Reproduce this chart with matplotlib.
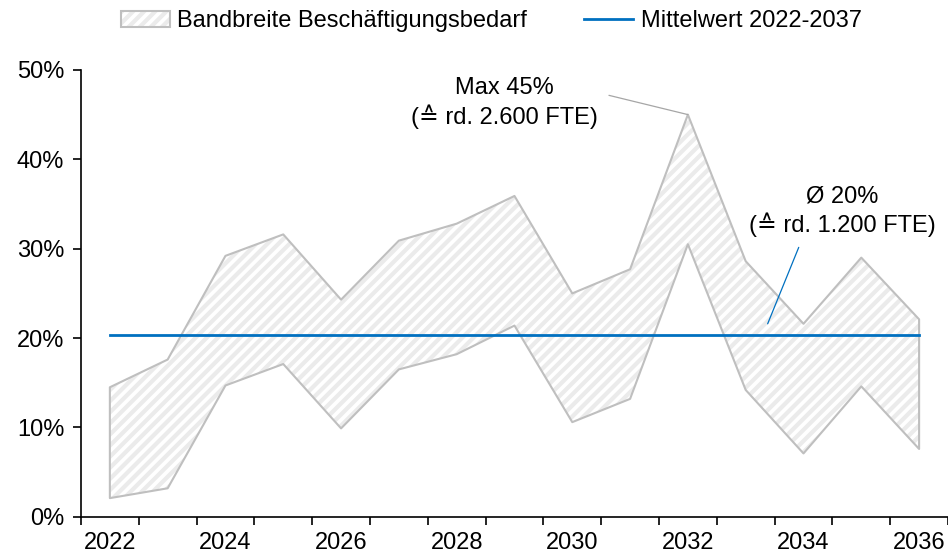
import numpy as np
import matplotlib.pyplot as plt
from matplotlib.patches import Patch
from matplotlib.lines import Line2D
from matplotlib.legend_handler import HandlerTuple

plt.rcParams['font.family'] = ['Liberation Sans', 'DejaVu Sans']
plt.rcParams['font.size'] = 17
plt.rcParams['hatch.linewidth'] = 3.0

years = list(range(2022, 2037))
upper = [14.5, 17.6, 29.2, 31.6, 24.3, 30.9, 32.8, 35.9, 25.0, 27.7, 45.0, 28.6, 21.6, 29.0, 22.1]
lower = [2.1, 3.2, 14.7, 17.1, 9.9, 16.5, 18.2, 21.4, 10.6, 13.2, 30.5, 14.2, 7.1, 14.6, 7.6]
mean = 20.3

x = np.arange(len(years))
up = np.array(upper) / 100
lo = np.array(lower) / 100

fig = plt.figure(figsize=(9.48, 5.57), dpi=100)
ax = fig.add_axes([0.0854, 0.072, 0.9146, 0.8025])

band_col = '#BFBFBF'
hatch_col = '#EBEBEB'
blue = '#0070C0'

# hatched band between lower and upper bound
ax.fill_between(x, lo, up, facecolor='white', edgecolor=hatch_col, hatch='///', linewidth=0)
ax.fill_between(x, lo, up, facecolor='none', edgecolor=band_col, linewidth=1.5)
ax.plot([x[0], x[-1]], [mean / 100] * 2, color=blue, lw=2)

ax.set_xlim(-0.5, len(years) - 0.5)
ax.set_ylim(0, 0.5)
ax.set_yticks(np.arange(0, 0.51, 0.1))
ax.set_yticklabels([f'{int(round(v * 100))}%' for v in np.arange(0, 0.51, 0.1)])

# ticks between categories, labels on every second year
ax.set_xticks(np.arange(-0.5, len(years) + 0.5, 1))
ax.set_xticklabels([])
ax.set_xticks(x[::2], minor=True)
ax.set_xticklabels([str(y) for y in years[::2]], minor=True)
ax.tick_params(axis='x', which='minor', length=0, pad=11)
ax.tick_params(axis='both', which='major', direction='out', length=6, width=1.2)
ax.tick_params(axis='y', pad=6)

for s in ['top', 'right']:
    ax.spines[s].set_visible(False)
for s in ['left', 'bottom']:
    ax.spines[s].set_linewidth(1.2)

ax.annotate('Max 45%\n(≙ rd. 2.600 FTE)', xy=(10, up[10]), xytext=(6.83, 0.463),
            ha='center', va='center', linespacing=1.25,
            arrowprops=dict(arrowstyle='-', color='#A6A6A6', lw=0.9,
                            relpos=(1.0, 0.7), shrinkA=6, shrinkB=0))
ax.annotate('Ø 20%\n(≙ rd. 1.200 FTE)', xy=(11.38, 0.216), xytext=(12.67, 0.342),
            ha='center', va='center', linespacing=1.25,
            arrowprops=dict(arrowstyle='-', color=blue, lw=0.9,
                            relpos=(0.29, 0.0), shrinkA=6, shrinkB=0))

band_handle = (Patch(facecolor='white', edgecolor=hatch_col, hatch='///', lw=0),
               Patch(facecolor='none', edgecolor=band_col, lw=1.5))
line_handle = Line2D([], [], color=blue, lw=2)
fig.legend([band_handle, line_handle],
           ['Bandbreite Beschäftigungsbedarf', 'Mittelwert 2022-2037'],
           handler_map={tuple: HandlerTuple(ndivide=1, pad=0)},
           loc='upper center', bbox_to_anchor=(0.518, 1.02), ncol=2, frameon=False,
           handlelength=2.1, handletextpad=0.3, columnspacing=2.4)

fig.savefig('out.png', dpi=100)
